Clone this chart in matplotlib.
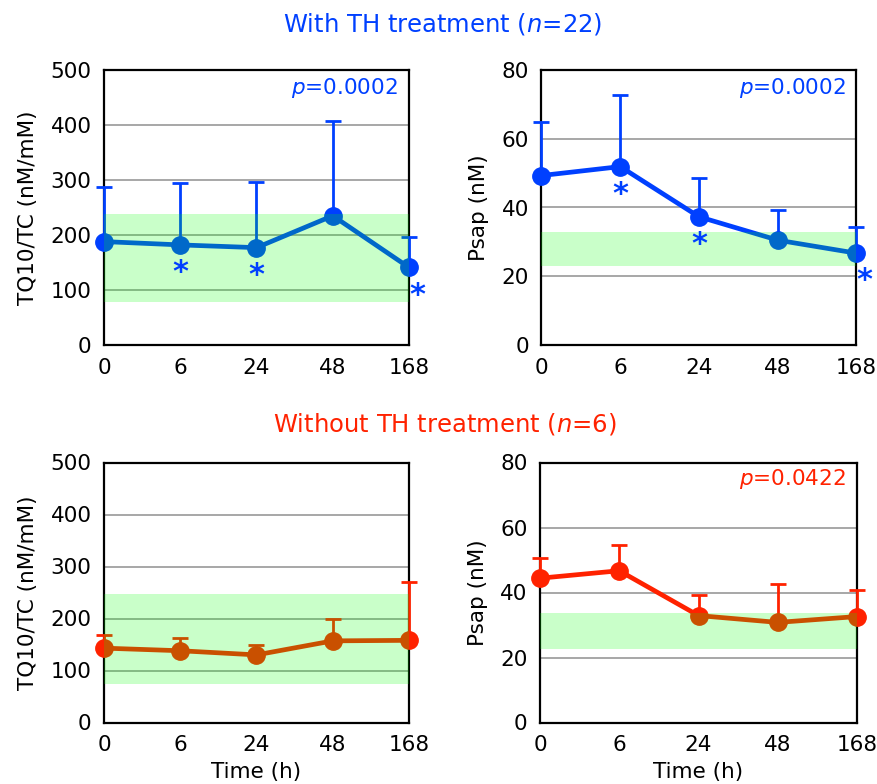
import matplotlib
matplotlib.use("Agg")
import matplotlib.pyplot as plt
import numpy as np

plt.rcParams['font.family'] = ['DejaVu Sans']

# ---- data ----
time_labels = ['0', '6', '24', '48', '168']

th_tq_mean = [188, 182, 177, 235, 141]
th_tq_sd = [100, 113, 120, 173, 55]
th_psap_mean = [49.3, 51.9, 37.3, 30.5, 26.7]
th_psap_sd = [15.7, 20.8, 11.4, 8.8, 7.5]

no_tq_mean = [143, 138, 130, 157, 158]
no_tq_sd = [26, 24, 19, 42, 112]
no_psap_mean = [44.4, 46.7, 32.9, 30.8, 32.6]
no_psap_sd = [6.2, 7.8, 6.2, 11.9, 8.2]

th_tq_ref = [79, 238]
th_psap_ref = [23.1, 32.8]
no_tq_ref = [74, 247]
no_psap_ref = [22.6, 33.7]

th_tq_star = [1, 2, 4]
th_psap_star = [1, 2, 4]

p_th_tq = 'p=0.0002'
p_th_psap = 'p=0.0002'
p_no_psap = 'p=0.0422'

blue = '#0040ff'
red = '#ff2200'
FS = 15.5

fig = plt.figure(figsize=(8.78, 7.84), dpi=100)

W, H = 878.0, 784.0
def mk(l, r, t, b):
    return fig.add_axes([l / W, 1 - b / H, (r - l) / W, (b - t) / H])

ax_tl = mk(104, 409, 70, 345)
ax_tr = mk(541.5, 856.5, 70, 345)
ax_bl = mk(104, 409, 462.5, 722.5)
ax_br = mk(540, 857, 462.5, 722.5)


def panel(ax, mean, sd, ref, color, ymax, step, ylabel, ptext=None,
          stars=(), xlabel=None):
    x = np.arange(len(mean))
    ax.set_xlim(0, len(mean) - 1)
    ax.set_ylim(0, ymax)
    ax.set_yticks(np.arange(0, ymax + 1, step))
    ax.set_xticks(x)
    ax.set_xticklabels(time_labels)
    for g in np.arange(step, ymax, step):
        ax.axhline(g, color='#a0a0a0', lw=1.3, zorder=1)
    for s in ax.spines.values():
        s.set_linewidth(1.6)
        s.set_zorder(5)
    ax.errorbar(x, mean, yerr=[np.zeros(len(sd)), sd], fmt='none',
                ecolor=color, elinewidth=2, capsize=6, capthick=2,
                zorder=6, clip_on=False)
    ax.plot(x, mean, color=color, lw=3.4, marker='o', ms=12.5,
            zorder=7, clip_on=False)
    ax.axhspan(ref[0], ref[1], color=(0, 1, 0), alpha=0.21, lw=0,
               zorder=10)
    ax.tick_params(axis='y', length=0, labelsize=FS, pad=9)
    ax.tick_params(axis='x', length=0, labelsize=FS, pad=9)
    ax.set_ylabel(ylabel, fontsize=FS, labelpad=9)
    if xlabel:
        ax.set_xlabel(xlabel, fontsize=FS, labelpad=5)
    if ptext:
        ax.text(0.965, 0.935, r'$\it{p}$' + ptext[1:], transform=ax.transAxes,
                ha='right', va='center', fontsize=FS, color=color, zorder=12)
    for i in stars:
        dx = 6 if i == len(mean) - 1 else 0
        ax.annotate('*', (x[i], mean[i]), xytext=(dx, -20),
                    textcoords='offset points', ha='center', va='center',
                    fontsize=22, fontweight='bold', color=color, zorder=12,
                    annotation_clip=False)


panel(ax_tl, th_tq_mean, th_tq_sd, th_tq_ref, blue, 500, 100,
      'TQ10/TC (nM/mM)', p_th_tq, th_tq_star)
panel(ax_tr, th_psap_mean, th_psap_sd, th_psap_ref, blue, 80, 20,
      'Psap (nM)', p_th_psap, th_psap_star)
panel(ax_bl, no_tq_mean, no_tq_sd, no_tq_ref, red, 500, 100,
      'TQ10/TC (nM/mM)', None, (), 'Time (h)')
panel(ax_br, no_psap_mean, no_psap_sd, no_psap_ref, red, 80, 20,
      'Psap (nM)', p_no_psap, (), 'Time (h)')

fig.text(443 / W, 1 - 24 / H, r'With TH treatment ($\it{n}$=22)',
         ha='center', va='center', fontsize=17.5, color=blue)
fig.text(445 / W, 1 - 424 / H, r'Without TH treatment ($\it{n}$=6)',
         ha='center', va='center', fontsize=17.5, color=red)

fig.savefig('out.png', dpi=100)
